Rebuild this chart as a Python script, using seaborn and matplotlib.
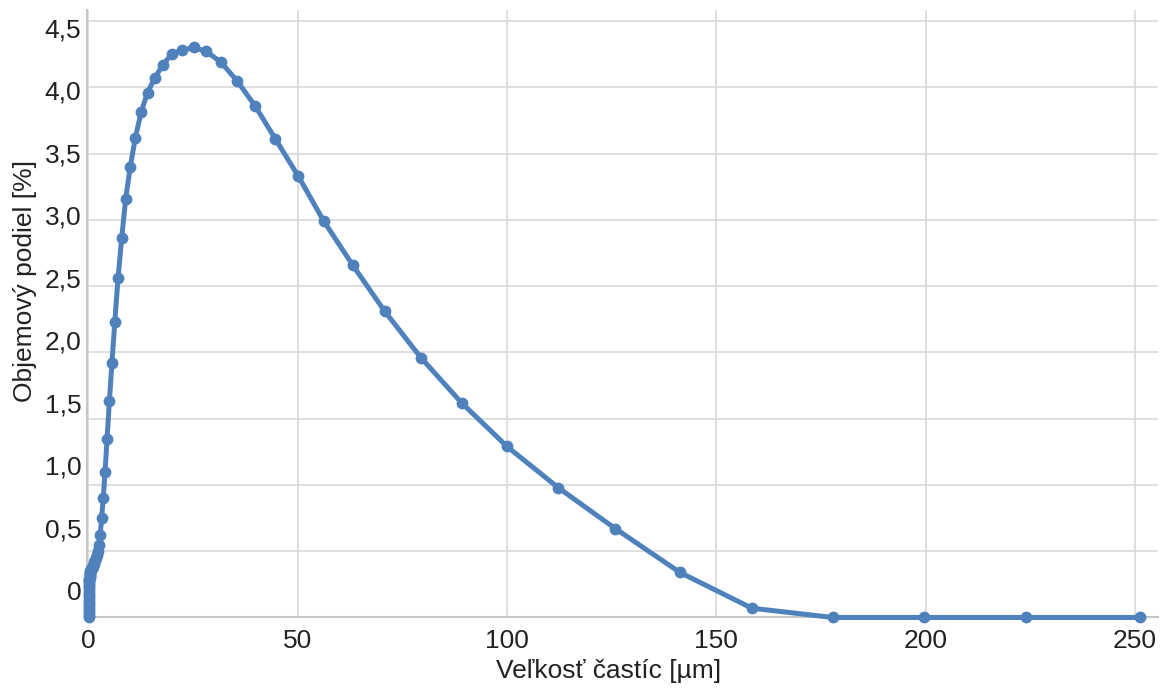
import matplotlib
matplotlib.use("Agg")
import matplotlib.pyplot as plt
import seaborn as sns
import pandas as pd

# Particle size bins [µm] (20 per decade) and volume fraction [%]
sizes = [0.040, 0.045, 0.050, 0.056, 0.063, 0.071, 0.079, 0.089, 0.100, 0.112,
         0.126, 0.141, 0.158, 0.178, 0.200, 0.224, 0.251, 0.282, 0.316, 0.355,
         0.398, 0.447, 0.501, 0.562, 0.631, 0.708, 0.794, 0.891, 1.000, 1.122,
         1.259, 1.413, 1.585, 1.778, 1.995, 2.239, 2.512, 2.818, 3.162, 3.548,
         3.981, 4.467, 5.012, 5.623, 6.310, 7.079, 7.943, 8.913, 10.00, 11.22,
         12.59, 14.13, 15.85, 17.78, 19.95, 22.39, 25.12, 28.18, 31.62, 35.48,
         39.81, 44.67, 50.12, 56.23, 63.10, 70.79, 79.43, 89.13, 100.0, 112.2,
         125.9, 141.3, 158.5, 177.8, 199.5, 223.9, 251.2]
volume = [0.00, 0.02, 0.04, 0.06, 0.08, 0.10, 0.12, 0.14, 0.16, 0.18,
          0.20, 0.22, 0.24, 0.25, 0.27, 0.28, 0.29, 0.30, 0.31, 0.32,
          0.33, 0.34, 0.35, 0.355, 0.36, 0.365, 0.37, 0.375, 0.38, 0.39,
          0.40, 0.42, 0.43, 0.45, 0.47, 0.50, 0.55, 0.62, 0.75, 0.90,
          1.10, 1.35, 1.63, 1.92, 2.23, 2.56, 2.86, 3.16, 3.40, 3.62,
          3.81, 3.96, 4.07, 4.17, 4.25, 4.28, 4.30, 4.27, 4.19, 4.05,
          3.86, 3.61, 3.33, 2.99, 2.66, 2.31, 1.96, 1.62, 1.29, 0.98,
          0.67, 0.34, 0.07, 0.00, 0.00, 0.00, 0.00]

x_ticks = [0, 50, 100, 150, 200, 250]
y_ticks = [0, 0.5, 1.0, 1.5, 2.0, 2.5, 3.0, 3.5, 4.0, 4.5]
y_tick_labels = ["0", "0,5", "1,0", "1,5", "2,0", "2,5", "3,0", "3,5", "4,0", "4,5"]

x_label = "Veľkosť častíc [µm]"
y_label = "Objemový podiel [%]"

df = pd.DataFrame({"size": sizes, "volume": volume})

sns.set_theme(style="whitegrid")
plt.rcParams["font.family"] = ["Liberation Sans", "DejaVu Sans"]

color = "#4f81bd"
grid_c = "#d9d9d9"
spine_c = "#c6c6c6"
text_c = "#222222"
fs = 19

fig = plt.figure(figsize=(11.64, 6.88), dpi=100)
pos = [0.0745, 0.1025, 0.9203, 0.883]
ax = fig.add_axes(pos)

sns.lineplot(data=df, x="size", y="volume", ax=ax, color=color, linewidth=3.6,
             marker="o", markersize=8.5, markeredgewidth=0, markeredgecolor=color,
             clip_on=False, zorder=5)

ax.set_xlim(-0.4, 255.5)
ax.set_ylim(0, 4.583)
ax.set_xticks(x_ticks)
ax.set_xticklabels([str(t) for t in x_ticks])
ax.set_yticks(y_ticks)
ax.set_yticklabels([])
ax.tick_params(axis="both", length=0)
ax.tick_params(axis="x", labelsize=fs, labelcolor=text_c, pad=8)
ax.grid(True, color=grid_c, linewidth=1.2)
for s in ["top", "right"]:
    ax.spines[s].set_visible(False)
for s in ["left", "bottom"]:
    ax.spines[s].set_color(spine_c)
    ax.spines[s].set_linewidth(1.5)

ax.set_xlabel(x_label, fontsize=fs, color=text_c)
ax.xaxis.label.set_va("center")
ax.xaxis.set_label_coords(0.487, -0.088)
ax.set_ylabel(y_label, fontsize=fs, color=text_c)
ax.yaxis.label.set_va("center")
ax.yaxis.set_label_coords(-0.058, 0.554)

# tick label axis (labels as placed in the reference)
ax2 = fig.add_axes(pos, frameon=False)
ax2.set_ylim(-0.216, 4.644)
ax2.set_yticks(y_ticks)
ax2.set_yticklabels(y_tick_labels)
ax2.tick_params(axis="y", length=0, labelsize=fs, labelcolor=text_c, pad=4)
ax2.set_xticks([])
ax2.grid(False)
ax2.patch.set_alpha(0)

fig.savefig("out.png", dpi=100, facecolor="white")
